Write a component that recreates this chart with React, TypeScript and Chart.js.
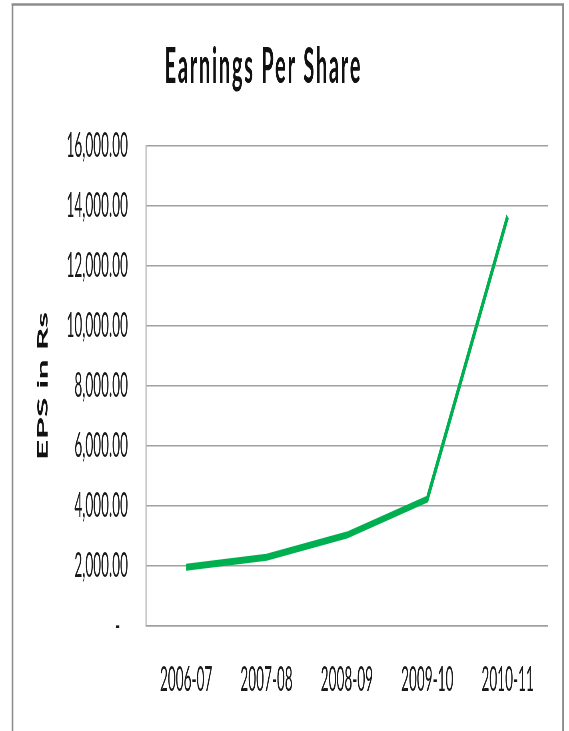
import React, { useEffect, useRef } from 'react';
import { Chart, registerables } from 'chart.js';

Chart.register(...registerables);

// ---- data ----
const TITLE = 'Earnings Per Share';
const Y_AXIS_TITLE = 'EPS in Rs';
const CATEGORIES = ['2006-07', '2007-08', '2008-09', '2009-10', '2010-11'];
const EPS_VALUES = [1960, 2290, 3030, 4230, 13650];
const Y_MIN = 0;
const Y_MAX = 16000;
const Y_STEP = 2000;

// ---- view ----
const VIEW_W = 569;
const VIEW_H = 731;
const SQUEEZE = 0.4; // the reference is horizontally compressed
const CANVAS_W = Math.round(VIEW_W / SQUEEZE);
const X = (v: number) => v / SQUEEZE; // displayed x -> canvas x
const FONT = "Lato, 'Open Sans', sans-serif";

const frameAndTitle = {
  id: 'frameAndTitle',
  beforeDraw(chart: any) {
    const ctx = chart.ctx;
    ctx.save();
    ctx.fillStyle = '#ffffff';
    ctx.fillRect(0, 0, chart.width, chart.height);
    ctx.strokeStyle = '#8c8c8c';
    ctx.lineWidth = 2.4;
    ctx.beginPath();
    ctx.moveTo(X(11.5), 4.5);
    ctx.lineTo(X(564.2), 4.5);
    ctx.stroke();
    ctx.lineWidth = X(1.7);
    ctx.beginPath();
    ctx.moveTo(X(12.5), 4.5);
    ctx.lineTo(X(12.5), chart.height + 5);
    ctx.moveTo(X(563.3), 4.5);
    ctx.lineTo(X(563.3), chart.height + 5);
    ctx.stroke();
    ctx.restore();
  },
  afterDraw(chart: any) {
    const ctx = chart.ctx;
    ctx.save();
    ctx.fillStyle = '#111111';
    ctx.font = `bold 50px ${FONT}`;
    try {
      (ctx as any).letterSpacing = '4.4px';
    } catch (e) {}
    ctx.textAlign = 'center';
    ctx.textBaseline = 'alphabetic';
    ctx.fillText(TITLE, X(263.5), 83);
    ctx.restore();
  },
};

export default function App() {
  const ref = useRef<HTMLCanvasElement | null>(null);

  useEffect(() => {
    if (!ref.current) return;
    const chart = new Chart(ref.current, {
      type: 'line',
      data: {
        labels: CATEGORIES,
        datasets: [
          {
            label: 'EPS',
            data: EPS_VALUES,
            borderColor: '#00b050',
            borderWidth: 7,
            pointRadius: 0,
            tension: 0,
            fill: false,
            borderJoinStyle: 'round',
            borderCapStyle: 'butt',
          },
        ],
      },
      options: {
        animation: false,
        responsive: false,
        devicePixelRatio: 1,
        layout: {
          padding: { top: 146, right: CANVAS_W - X(548), bottom: 0, left: 0 },
        },
        plugins: {
          legend: { display: false },
          tooltip: { enabled: false },
          title: { display: false },
        },
        scales: {
          x: {
            offset: true,
            afterFit(scale: any) {
              scale.height = VIEW_H - 626;
            },
            grid: { display: false, drawTicks: false },
            border: { display: true, color: '#a0a0a0', width: 1.5 },
            ticks: {
              padding: 34,
              color: '#1a1a1a',
              font: { family: FONT, size: 34 },
              maxRotation: 0,
            },
          },
          y: {
            min: Y_MIN,
            max: Y_MAX,
            afterFit(scale: any) {
              scale.width = X(146);
            },
            grid: { color: '#a0a0a0', lineWidth: 1.5, drawTicks: false },
            border: { display: true, color: '#a0a0a0', width: X(1) },
            ticks: {
              stepSize: Y_STEP,
              padding: X(18),
              color: '#1a1a1a',
              font: { family: FONT, size: 34 },
              callback: (v: any) =>
                Number(v) === 0
                  ? '-\u2007'
                  : Number(v).toLocaleString('en-US', {
                      minimumFractionDigits: 2,
                      maximumFractionDigits: 2,
                    }),
            },
            title: {
              display: true,
              text: Y_AXIS_TITLE,
              color: '#111111',
              font: { family: FONT, size: 36, weight: 'bold' },
              padding: { top: X(43) - 21.6, bottom: 0 },
            },
          },
        },
      },
      plugins: [frameAndTitle],
    });
    return () => chart.destroy();
  }, []);

  return (
    <canvas
      ref={ref}
      width={CANVAS_W}
      height={VIEW_H}
      style={{
        position: 'fixed',
        left: 0,
        top: 0,
        width: `${VIEW_W}px`,
        height: `${VIEW_H}px`,
        display: 'block',
      }}
    />
  );
}
